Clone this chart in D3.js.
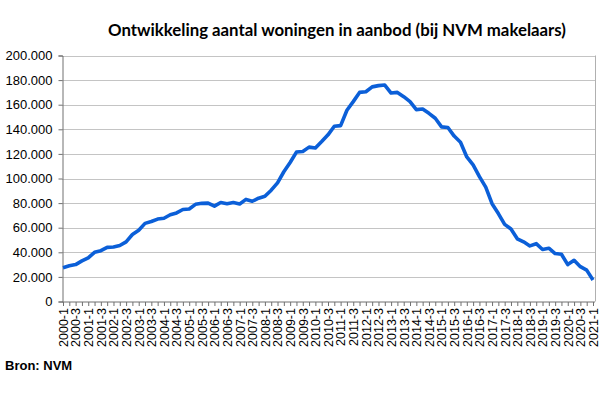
<!DOCTYPE html>
<html>
<head>
<meta charset="utf-8">
<script src="https://cdn.jsdelivr.net/npm/d3@7"></script>
<style>
  body { margin: 0; background: #fff; }
  svg { display: block; }
  .title { font-family: Lato, "Open Sans", sans-serif; font-weight: bold; font-size: 16.8px; fill: #000; }
  .tick-label { font-family: "Liberation Sans", Arial, sans-serif; font-size: 12.5px; fill: #000; }
  .y-label { font-size: 13px; }
  .source { font-family: "Liberation Sans", Arial, sans-serif; font-weight: bold; font-size: 13px; fill: #000; }
</style>
</head>
<body>
<script>
// quarters 2000-1 .. 2021-1
const years = d3.range(2000, 2022)
const quarters = years.flatMap(y => y === 2021 ? [y + '-1'] : [1, 2, 3, 4].map(q => y + '-' + q))

// aantal woningen in aanbod per kwartaal
const aanbod = [
    27500, 29000, 30000, 33000, 35500, 40000, 41300, 44000, 44300, 45500,
    48500, 54500, 58000, 63500, 65000, 67000, 67700, 70500, 72000, 74800,
    75200, 79000, 79800, 80000, 77500, 80500, 79500, 80500, 79300, 83000,
    81500, 84000, 85500, 90500, 96500, 105500, 113000, 121500, 122000, 125500,
    124800, 130000, 135500, 142500, 143000, 155500, 162500, 170000, 170500, 174500,
    175500, 176000, 169500, 170000, 166500, 162500, 156000, 156500, 153000, 149000,
    142000, 141500, 134500, 129500, 117500, 111000, 101500, 93000, 79500, 71500,
    62700, 59000, 51000, 48500, 45200, 47000, 42300, 43300, 39000, 38400,
    30000, 33500, 28300, 25500, 17500
]

const yTicks = [0, 20000, 40000, 60000, 80000, 100000, 120000, 140000, 160000, 180000, 200000]

const width = 600, height = 395
const plot = { left: 62, right: 595, top: 55.5, bottom: 301.5 }

const nl = d3.formatLocale({ decimal: ',', thousands: '.', grouping: [3], currency: ['', ''] })
const fmt = nl.format(',d')

const svg = d3.select('body').append('svg')
    .attr('width', width)
    .attr('height', height)

const x = d3.scalePoint()
    .domain(quarters)
    .range([63, 593])

const y = d3.scaleLinear()
    .domain([0, 200000])
    .range([plot.bottom, plot.top])

// gridlines
svg.append('g')
    .selectAll('line')
    .data(yTicks.filter(d => d > 0))
    .enter()
    .append('line')
    .attr('x1', plot.left)
    .attr('x2', plot.right)
    .attr('y1', d => Math.round(y(d)) + 0.5)
    .attr('y2', d => Math.round(y(d)) + 0.5)
    .attr('stroke', '#c4c4c4')
    .attr('stroke-width', 1.2)

// right border of plot area
svg.append('line')
    .attr('x1', plot.right + 0.5).attr('x2', plot.right + 0.5)
    .attr('y1', plot.top).attr('y2', plot.bottom)
    .attr('stroke', '#b0b0b0')

// y axis
const yAxis = svg.append('g')
    .attr('transform', 'translate(' + (plot.left + 0.5) + ',0)')
    .call(d3.axisLeft(y).tickValues(yTicks).tickFormat(fmt).tickSize(4).tickPadding(6))
yAxis.select('.domain').attr('stroke', '#707070')
yAxis.selectAll('.tick line').attr('stroke', '#707070')
yAxis.selectAll('.tick text').attr('class', 'tick-label y-label').attr('font-size', null).attr('font-family', null)

// x axis
const xAxis = svg.append('g')
    .attr('transform', 'translate(0,' + (plot.bottom + 0.5) + ')')
    .call(d3.axisBottom(x).tickSize(4).tickSizeOuter(0).tickPadding(3))
xAxis.select('.domain').attr('stroke', '#707070').attr('d', 'M' + plot.left + ',0H' + plot.right)
xAxis.selectAll('.tick line').attr('stroke', '#707070')
xAxis.selectAll('.tick text')
    .attr('class', 'tick-label')
    .attr('font-size', null).attr('font-family', null)
    .text(d => (d.endsWith('-1') || d.endsWith('-3')) ? d : '')
    .attr('transform', 'rotate(-90)')
    .attr('text-anchor', 'end')
    .attr('dy', '0.35em')
    .attr('x', -6)
    .attr('y', 0)

// line
const line = d3.line()
    .x((d, i) => x(quarters[i]))
    .y(d => y(d))

svg.append('path')
    .datum(aanbod)
    .attr('fill', 'none')
    .attr('stroke', '#0b5fd8')
    .attr('stroke-width', 3.6)
    .attr('stroke-linejoin', 'round')
    .attr('d', line)

// title
svg.append('text')
    .attr('class', 'title')
    .attr('x', 337)
    .attr('y', 36)
    .attr('text-anchor', 'middle')
    .text('Ontwikkeling aantal woningen in aanbod (bij NVM makelaars)')

// source
svg.append('text')
    .attr('class', 'source')
    .attr('x', 5)
    .attr('y', 370)
    .text('Bron: NVM')
</script>
</body>
</html>
